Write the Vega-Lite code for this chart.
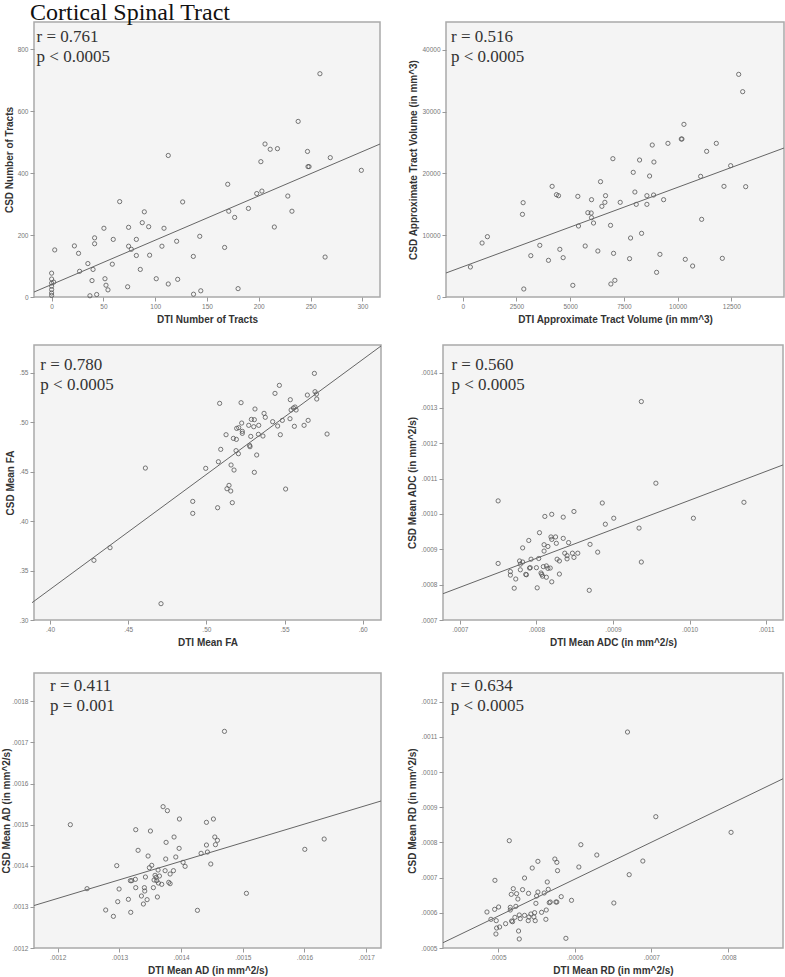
{
  "$schema": "https://vega.github.io/schema/vega-lite/v6.json",
  "padding": {"left": 0, "top": 0, "right": 0, "bottom": 0},
  "background": "white",
  "title": {"text": "Cortical Spinal Tract", "anchor": "start", "frame": "group", "font": "Liberation Serif", "fontSize": 24, "fontWeight": "normal", "color": "#111", "offset": -3.5, "dx": -4},
  "config": {
    "view": {"fill": "#f4f4f4", "stroke": "#a9a9a9", "strokeWidth": 1.5},
    "axis": {"grid": false, "domain": false, "labelOverlap": false, "tickCount": 20, "labelFont": "Liberation Sans", "labelFontSize": 6.5, "labelColor": "#777", "tickColor": "#999", "tickSize": 4, "labelPadding": 2, "titleFont": "Liberation Sans", "titleFontSize": 10, "titleFontWeight": "bold", "titleColor": "#333", "titlePadding": 5},
    "axisY": {"titlePadding": 3},
    "point": {"shape": "circle", "filled": false, "size": 18, "color": "#555", "strokeWidth": 0.8, "opacity": 1},
    "line": {"color": "#666", "strokeWidth": 1, "clip": true},
    "text": {"align": "left", "baseline": "alphabetic", "font": "Liberation Serif", "fontSize": 17, "color": "#333", "lineHeight": 20}
  },
  "columns": 1,
  "align": "none",
  "spacing": 17,
  "bounds": "full",
  "concat": [
    {"hconcat": [
      {"width": 346, "height": 275, "layer": [
        {"data": {"values": [
          {"dti":0,"csd":77},{"dti":0,"csd":58},{"dti":0,"csd":45},{"dti":0,"csd":35},{"dti":0,"csd":24},{"dti":0,"csd":13},{"dti":0,"csd":5},{"dti":2,"csd":48},{"dti":3,"csd":152},{"dti":22,"csd":165},{"dti":26,"csd":141},{"dti":27,"csd":83},{"dti":35,"csd":108},{"dti":37,"csd":4},{"dti":39,"csd":53},{"dti":40,"csd":89},{"dti":41.5,"csd":172},{"dti":41.5,"csd":191},{"dti":43.5,"csd":8},{"dti":50.5,"csd":222},{"dti":51.5,"csd":59},{"dti":52.5,"csd":38},{"dti":54.4,"csd":23},{"dti":58.6,"csd":106},{"dti":59.5,"csd":186},{"dti":65.7,"csd":308},{"dti":73.4,"csd":33},{"dti":74.3,"csd":225},{"dti":74.3,"csd":164},{"dti":77,"csd":154},{"dti":81.8,"csd":186},{"dti":81.8,"csd":134},{"dti":85.6,"csd":89},{"dti":87.5,"csd":240},{"dti":89.5,"csd":275},{"dti":93.7,"csd":227},{"dti":94.6,"csd":135},{"dti":101,"csd":59},{"dti":106.5,"csd":164},{"dti":108.5,"csd":222},{"dti":112.6,"csd":42},{"dti":112.6,"csd":457},{"dti":120.7,"csd":180},{"dti":121.7,"csd":57},{"dti":126.5,"csd":307},{"dti":136.8,"csd":131},{"dti":137,"csd":9},{"dti":143,"csd":196},{"dti":144,"csd":20},{"dti":167,"csd":160},{"dti":170,"csd":364},{"dti":171,"csd":277},{"dti":176.7,"csd":257},{"dti":180,"csd":27},{"dti":190,"csd":286},{"dti":198,"csd":334},{"dti":202,"csd":437},{"dti":203,"csd":342},{"dti":206,"csd":494},{"dti":211,"csd":477},{"dti":218,"csd":479},{"dti":215,"csd":226},{"dti":228,"csd":326},{"dti":232,"csd":277},{"dti":238,"csd":567},{"dti":247,"csd":470},{"dti":247.5,"csd":421},{"dti":248.5,"csd":421},{"dti":259,"csd":721},{"dti":264,"csd":129},{"dti":269,"csd":450},{"dti":299,"csd":409}
        ]},
         "mark": {"type": "point"},
         "encoding": {
          "x": {"field": "dti", "type": "quantitative", "scale": {"domain": [-17, 317], "nice": false, "zero": false}, "axis": {"title": "DTI Number of Tracts", "values": [0,50,100,150,200,250,300], "format": "d"}},
          "y": {"field": "csd", "type": "quantitative", "scale": {"domain": [0, 888], "nice": false, "zero": false}, "axis": {"title": "CSD Number of Tracts", "values": [0,200,400,600,800], "format": "d"}}}},
        {"data": {"values": [{"dti": -17, "csd": 16}, {"dti": 317, "csd": 494}]},
         "mark": {"type": "line"},
         "encoding": {"x": {"field": "dti", "type": "quantitative"}, "y": {"field": "csd", "type": "quantitative"}}},
        {"data": {"values": [{}]},
         "mark": {"type": "text", "text": ["r = 0.761", "p < 0.0005"]},
         "encoding": {"x": {"datum": -14.5}, "y": {"datum": 824}}}
      ]},
      {"width": 338, "height": 275, "layer": [
        {"data": {"values": [
          {"dti":357,"csd":4852},{"dti":901,"csd":8733},{"dti":1149,"csd":9757},{"dti":2780,"csd":13369},{"dti":2811,"csd":15256},{"dti":2842,"csd":1294},{"dti":3168,"csd":6685},{"dti":3587,"csd":8356},{"dti":3991,"csd":5930},{"dti":4161,"csd":17898},{"dti":4363,"csd":16550},{"dti":4457,"csd":16388},{"dti":4519,"csd":7709},{"dti":4674,"csd":6361},{"dti":5124,"csd":1887},{"dti":5357,"csd":16280},{"dti":5388,"csd":11482},{"dti":5699,"csd":8248},{"dti":5823,"csd":13639},{"dti":5978,"csd":13585},{"dti":5994,"csd":15741},{"dti":5994,"csd":12830},{"dti":6087,"csd":11968},{"dti":6289,"csd":7439},{"dti":6413,"csd":18652},{"dti":6475,"csd":14663},{"dti":6615,"csd":15310},{"dti":6646,"csd":16388},{"dti":6879,"csd":11590},{"dti":6894,"csd":2102},{"dti":6988,"csd":22372},{"dti":7019,"csd":7062},{"dti":7081,"csd":2695},{"dti":7329,"csd":15310},{"dti":7764,"csd":6199},{"dti":7811,"csd":9542},{"dti":7935,"csd":20162},{"dti":8012,"csd":16981},{"dti":8075,"csd":14987},{"dti":8230,"csd":22156},{"dti":8323,"csd":10297},{"dti":8571,"csd":16388},{"dti":8571,"csd":14987},{"dti":8696,"csd":19569},{"dti":8820,"csd":24582},{"dti":8882,"csd":16496},{"dti":8898,"csd":21833},{"dti":9022,"csd":3989},{"dti":9177,"csd":6900},{"dti":9348,"csd":15741},{"dti":9550,"csd":24852},{"dti":10171,"csd":25553},{"dti":10202,"csd":25553},{"dti":10295,"csd":27925},{"dti":10357,"csd":6092},{"dti":10699,"csd":5013},{"dti":11071,"csd":19515},{"dti":11118,"csd":12561},{"dti":11351,"csd":23558},{"dti":11801,"csd":24852},{"dti":12081,"csd":6253},{"dti":12158,"csd":17898},{"dti":12469,"csd":21240},{"dti":12842,"csd":36011},{"dti":13028,"csd":33208},{"dti":13168,"csd":17844}
        ]},
         "mark": {"type": "point"},
         "encoding": {
          "x": {"field": "dti", "type": "quantitative", "scale": {"domain": [-778, 14951], "nice": false, "zero": false}, "axis": {"title": "DTI Approximate Tract Volume (in mm^3)", "values": [0,2500,5000,7500,10000,12500], "format": "d"}},
          "y": {"field": "csd", "type": "quantitative", "scale": {"domain": [0, 44480], "nice": false, "zero": false}, "axis": {"title": "CSD Approximate Tract Volume (in mm^3)", "values": [0,10000,20000,30000,40000], "format": "d"}}}},
        {"data": {"values": [{"dti": -778, "csd": 3882}, {"dti": 14951, "csd": 24100}]},
         "mark": {"type": "line"},
         "encoding": {"x": {"field": "dti", "type": "quantitative"}, "y": {"field": "csd", "type": "quantitative"}}},
        {"data": {"values": [{}]},
         "mark": {"type": "text", "text": ["r = 0.516", "p < 0.0005"]},
         "encoding": {"x": {"datum": -545}, "y": {"datum": 41278}}}
      ]}
    ], "spacing": 66, "bounds": "flush"},
    {"columns": 1, "align": "none", "spacing": 23, "bounds": "full", "concat": [
      {"hconcat": [
        {"width": 347, "height": 275, "layer": [
          {"data": {"values": [
            {"dti":0.4281,"csd":0.3603},{"dti":0.4384,"csd":0.3731},{"dti":0.461,"csd":0.4536},{"dti":0.471,"csd":0.3165},{"dti":0.4913,"csd":0.4199},{"dti":0.4913,"csd":0.4078},{"dti":0.4996,"csd":0.4533},{"dti":0.5072,"csd":0.4135},{"dti":0.5077,"csd":0.46},{"dti":0.5085,"csd":0.519},{"dti":0.5092,"csd":0.4725},{"dti":0.5126,"csd":0.4873},{"dti":0.5132,"csd":0.4327},{"dti":0.5145,"csd":0.4361},{"dti":0.5156,"csd":0.4304},{"dti":0.5158,"csd":0.4567},{"dti":0.5166,"csd":0.4186},{"dti":0.5173,"csd":0.4836},{"dti":0.5177,"csd":0.4516},{"dti":0.519,"csd":0.4712},{"dti":0.5192,"csd":0.4826},{"dti":0.5194,"csd":0.4937},{"dti":0.5205,"csd":0.4681},{"dti":0.5207,"csd":0.4944},{"dti":0.5222,"csd":0.5197},{"dti":0.5226,"csd":0.4991},{"dti":0.523,"csd":0.4907},{"dti":0.523,"csd":0.4887},{"dti":0.5271,"csd":0.4968},{"dti":0.5277,"csd":0.4765},{"dti":0.5279,"csd":0.4752},{"dti":0.5284,"csd":0.4856},{"dti":0.5288,"csd":0.5028},{"dti":0.5303,"csd":0.4954},{"dti":0.5307,"csd":0.5025},{"dti":0.5307,"csd":0.4493},{"dti":0.5311,"csd":0.5133},{"dti":0.5322,"csd":0.4668},{"dti":0.5333,"csd":0.4877},{"dti":0.5335,"csd":0.4968},{"dti":0.5362,"csd":0.486},{"dti":0.5369,"csd":0.5089},{"dti":0.5377,"csd":0.5049},{"dti":0.5424,"csd":0.5005},{"dti":0.5439,"csd":0.5291},{"dti":0.5456,"csd":0.4961},{"dti":0.5467,"csd":0.5372},{"dti":0.5473,"csd":0.4873},{"dti":0.5486,"csd":0.5018},{"dti":0.5507,"csd":0.4324},{"dti":0.5537,"csd":0.5227},{"dti":0.5535,"csd":0.5035},{"dti":0.5542,"csd":0.5123},{"dti":0.5557,"csd":0.5143},{"dti":0.5567,"csd":0.5153},{"dti":0.5563,"csd":0.4958},{"dti":0.5574,"csd":0.5123},{"dti":0.5625,"csd":0.4968},{"dti":0.5646,"csd":0.5274},{"dti":0.5651,"csd":0.5018},{"dti":0.5691,"csd":0.5493},{"dti":0.5695,"csd":0.5308},{"dti":0.5704,"csd":0.5284},{"dti":0.5706,"csd":0.5234},{"dti":0.5772,"csd":0.488}
          ]},
           "mark": {"type": "point"},
           "encoding": {
            "x": {"field": "dti", "type": "quantitative", "scale": {"domain": [0.38977, 0.6117], "nice": false, "zero": false}, "axis": {"title": "DTI Mean FA", "values": [0.40,0.45,0.50,0.55,0.60], "labelExpr": "substring(format(datum.value, '.2f'), 1)"}},
            "y": {"field": "csd", "type": "quantitative", "scale": {"domain": [0.30, 0.578], "nice": false, "zero": false}, "axis": {"title": "CSD Mean FA", "values": [0.30,0.35,0.40,0.45,0.50,0.55], "labelExpr": "substring(format(datum.value, '.2f'), 1)"}}}},
          {"data": {"values": [{"dti": 0.3885, "csd": 0.3175}, {"dti": 0.6117, "csd": 0.577}]},
           "mark": {"type": "line"},
           "encoding": {"x": {"field": "dti", "type": "quantitative"}, "y": {"field": "csd", "type": "quantitative"}}},
          {"data": {"values": [{}]},
           "mark": {"type": "text", "text": ["r = 0.780", "p < 0.0005"]},
           "encoding": {"x": {"datum": 0.3938}, "y": {"datum": 0.553}}}
        ]},
        {"width": 340, "height": 275, "layer": [
          {"data": {"values": [
            {"dti":0.00075,"csd":0.001037},{"dti":0.00075,"csd":0.00086},{"dti":0.000766,"csd":0.000837},{"dti":0.000766,"csd":0.000827},{"dti":0.000771,"csd":0.00079},{"dti":0.000773,"csd":0.000816},{"dti":0.000778,"csd":0.000867},{"dti":0.000779,"csd":0.000842},{"dti":0.000779,"csd":0.000858},{"dti":0.000782,"csd":0.000904},{"dti":0.000782,"csd":0.000864},{"dti":0.000786,"csd":0.000829},{"dti":0.000787,"csd":0.000828},{"dti":0.00079,"csd":0.000925},{"dti":0.000791,"csd":0.000847},{"dti":0.000792,"csd":0.000848},{"dti":0.000793,"csd":0.000872},{"dti":0.0008,"csd":0.000848},{"dti":0.000801,"csd":0.000791},{"dti":0.000803,"csd":0.000874},{"dti":0.000804,"csd":0.000947},{"dti":0.000806,"csd":0.000833},{"dti":0.000807,"csd":0.000829},{"dti":0.000808,"csd":0.000824},{"dti":0.000809,"csd":0.000851},{"dti":0.00081,"csd":0.000895},{"dti":0.00081,"csd":0.000913},{"dti":0.000811,"csd":0.000993},{"dti":0.000813,"csd":0.000821},{"dti":0.000813,"csd":0.000853},{"dti":0.000815,"csd":0.000846},{"dti":0.000815,"csd":0.000908},{"dti":0.000818,"csd":0.000847},{"dti":0.000819,"csd":0.000935},{"dti":0.00082,"csd":0.000808},{"dti":0.00082,"csd":0.000928},{"dti":0.00082,"csd":0.000999},{"dti":0.000825,"csd":0.000935},{"dti":0.000826,"csd":0.000917},{"dti":0.000827,"csd":0.000872},{"dti":0.00083,"csd":0.000867},{"dti":0.00083,"csd":0.00083},{"dti":0.000835,"csd":0.000931},{"dti":0.000835,"csd":0.000991},{"dti":0.000837,"csd":0.000889},{"dti":0.00084,"csd":0.000873},{"dti":0.00084,"csd":0.000882},{"dti":0.000842,"csd":0.000919},{"dti":0.000847,"csd":0.000889},{"dti":0.000849,"csd":0.001007},{"dti":0.000849,"csd":0.000877},{"dti":0.000854,"csd":0.000889},{"dti":0.000869,"csd":0.000784},{"dti":0.00087,"csd":0.000914},{"dti":0.00088,"csd":0.000892},{"dti":0.000886,"csd":0.001031},{"dti":0.00089,"csd":0.000971},{"dti":0.000901,"csd":0.000988},{"dti":0.000934,"csd":0.00096},{"dti":0.000937,"csd":0.001318},{"dti":0.000937,"csd":0.000864},{"dti":0.000956,"csd":0.001087},{"dti":0.001005,"csd":0.000988},{"dti":0.001071,"csd":0.001033}
          ]},
           "mark": {"type": "point"},
           "encoding": {
            "x": {"field": "dti", "type": "quantitative", "scale": {"domain": [0.000678, 0.001122], "nice": false, "zero": false}, "axis": {"title": "DTI Mean ADC (in mm^2/s)", "values": [0.0007,0.0008,0.0009,0.0010,0.0011], "labelExpr": "substring(format(datum.value, '.4f'), 1)"}},
            "y": {"field": "csd", "type": "quantitative", "scale": {"domain": [0.0007, 0.001478], "nice": false, "zero": false}, "axis": {"title": "CSD Mean ADC (in mm^2/s)", "tickCount": 20, "values": [0.0007,0.0008,0.0009,0.0010,0.0011,0.0012,0.0013,0.0014], "labelExpr": "substring(format(datum.value, '.4f'), 1)"}}}},
          {"data": {"values": [{"dti": 0.000678, "csd": 0.0007744}, {"dti": 0.001122, "csd": 0.0011387}]},
           "mark": {"type": "line"},
           "encoding": {"x": {"field": "dti", "type": "quantitative"}, "y": {"field": "csd", "type": "quantitative"}}},
          {"data": {"values": [{}]},
           "mark": {"type": "text", "text": ["r = 0.560", "p < 0.0005"]},
           "encoding": {"x": {"datum": 0.000689}, "y": {"datum": 0.001408}}}
        ]}
      ], "spacing": 62, "bounds": "flush"},
      {"hconcat": [
        {"width": 347, "height": 275, "layer": [
          {"data": {"values": [
            {"dti":0.0012205,"csd":0.0015},{"dti":0.0012476,"csd":0.0013443},{"dti":0.0012778,"csd":0.0012924},{"dti":0.0012903,"csd":0.001277},{"dti":0.0012957,"csd":0.0014003},{"dti":0.0012973,"csd":0.0013127},{"dti":0.0012995,"csd":0.0013435},{"dti":0.0013146,"csd":0.0013184},{"dti":0.0013178,"csd":0.0013638},{"dti":0.0013184,"csd":0.0012868},{"dti":0.00132,"csd":0.0013638},{"dti":0.0013259,"csd":0.001367},{"dti":0.0013265,"csd":0.0014878},{"dti":0.0013265,"csd":0.0013468},{"dti":0.0013303,"csd":0.0014376},{"dti":0.0013357,"csd":0.0013265},{"dti":0.0013389,"csd":0.001307},{"dti":0.0013405,"csd":0.0013468},{"dti":0.0013411,"csd":0.0013386},{"dti":0.0013422,"csd":0.0013727},{"dti":0.0013449,"csd":0.0013176},{"dti":0.0013465,"csd":0.0014238},{"dti":0.0013486,"csd":0.0013954},{"dti":0.0013503,"csd":0.0014846},{"dti":0.0013524,"csd":0.0014011},{"dti":0.0013551,"csd":0.0013468},{"dti":0.0013562,"csd":0.0013654},{"dti":0.0013578,"csd":0.0013768},{"dti":0.0013595,"csd":0.0013719},{"dti":0.0013605,"csd":0.0013638},{"dti":0.0013616,"csd":0.0013241},{"dti":0.0013627,"csd":0.0013897},{"dti":0.0013632,"csd":0.0013581},{"dti":0.0013649,"csd":0.0013751},{"dti":0.0013708,"csd":0.0015438},{"dti":0.0013686,"csd":0.0013549},{"dti":0.0013741,"csd":0.0013881},{"dti":0.0013751,"csd":0.0014165},{"dti":0.0013757,"csd":0.001457},{"dti":0.0013778,"csd":0.0015341},{"dti":0.00138,"csd":0.0013597},{"dti":0.0013822,"csd":0.0013565},{"dti":0.0013822,"csd":0.00138},{"dti":0.0013876,"csd":0.0013881},{"dti":0.0013886,"csd":0.00147},{"dti":0.0013914,"csd":0.0014214},{"dti":0.0013968,"csd":0.0014424},{"dti":0.0013973,"csd":0.0015138},{"dti":0.0014032,"csd":0.0014084},{"dti":0.0014065,"csd":0.0013986},{"dti":0.0014265,"csd":0.0012916},{"dti":0.0014324,"csd":0.0014303},{"dti":0.0014411,"csd":0.0015057},{"dti":0.0014411,"csd":0.0014505},{"dti":0.0014427,"csd":0.0014335},{"dti":0.0014481,"csd":0.0014043},{"dti":0.0014524,"csd":0.0015138},{"dti":0.0014546,"csd":0.00147},{"dti":0.0014557,"csd":0.0014514},{"dti":0.0014589,"csd":0.0014619},{"dti":0.0014703,"csd":0.001727},{"dti":0.0015059,"csd":0.001333},{"dti":0.0016005,"csd":0.00144},{"dti":0.0016319,"csd":0.0014651}
          ]},
           "mark": {"type": "point"},
           "encoding": {
            "x": {"field": "dti", "type": "quantitative", "scale": {"domain": [0.0011616, 0.001724], "nice": false, "zero": false}, "axis": {"title": "DTI Mean AD (in mm^2/s)", "values": [0.0012,0.0013,0.0014,0.0015,0.0016,0.0017], "labelExpr": "substring(format(datum.value, '.4f'), 1)"}},
            "y": {"field": "csd", "type": "quantitative", "scale": {"domain": [0.0012, 0.001869], "nice": false, "zero": false}, "axis": {"title": "CSD Mean AD (in mm^2/s)", "titlePadding": 0, "values": [0.0012,0.0013,0.0014,0.0015,0.0016,0.0017,0.0018], "labelExpr": "substring(format(datum.value, '.4f'), 1)"}}}},
          {"data": {"values": [{"dti": 0.0011616, "csd": 0.0013033}, {"dti": 0.001724, "csd": 0.0015576}]},
           "mark": {"type": "line"},
           "encoding": {"x": {"field": "dti", "type": "quantitative"}, "y": {"field": "csd", "type": "quantitative"}}},
          {"data": {"values": [{}]},
           "mark": {"type": "text", "text": ["r = 0.411", "p = 0.001"]},
           "encoding": {"x": {"datum": 0.0011875}, "y": {"datum": 0.0018246}}}
        ]},
        {"width": 340, "height": 275, "layer": [
          {"data": {"values": [
            {"dti":0.0004857,"csd":0.0006023},{"dti":0.0004909,"csd":0.0005815},{"dti":0.0004957,"csd":0.0006099},{"dti":0.0004961,"csd":0.0006923},{"dti":0.0004974,"csd":0.0005398},{"dti":0.0004978,"csd":0.0005777},{"dti":0.0004983,"csd":0.0005568},{"dti":0.0005009,"csd":0.0006165},{"dti":0.0005022,"csd":0.0005597},{"dti":0.00051,"csd":0.0005691},{"dti":0.0005148,"csd":0.000805},{"dti":0.0005161,"csd":0.0006156},{"dti":0.0005161,"csd":0.000608},{"dti":0.0005174,"csd":0.0006525},{"dti":0.0005178,"csd":0.0005767},{"dti":0.0005191,"csd":0.0005748},{"dti":0.00052,"csd":0.0006686},{"dti":0.0005221,"csd":0.0005871},{"dti":0.0005234,"csd":0.0006184},{"dti":0.0005243,"csd":0.0006544},{"dti":0.000526,"csd":0.0006392},{"dti":0.0005269,"csd":0.0005483},{"dti":0.0005278,"csd":0.0005256},{"dti":0.0005278,"csd":0.0005938},{"dti":0.0005291,"csd":0.0005834},{"dti":0.0005321,"csd":0.0006658},{"dti":0.0005347,"csd":0.0006989},{"dti":0.0005347,"csd":0.0005928},{"dti":0.0005395,"csd":0.0005777},{"dti":0.0005399,"csd":0.0006553},{"dti":0.0005404,"csd":0.0005881},{"dti":0.000543,"csd":0.0005966},{"dti":0.0005447,"csd":0.0007273},{"dti":0.0005469,"csd":0.0005881},{"dti":0.0005478,"csd":0.0006004},{"dti":0.0005486,"csd":0.0005777},{"dti":0.0005495,"csd":0.0006269},{"dti":0.0005504,"csd":0.0006478},{"dti":0.0005521,"csd":0.0006591},{"dti":0.0005521,"csd":0.0007463},{"dti":0.0005569,"csd":0.0006014},{"dti":0.0005603,"csd":0.0006563},{"dti":0.0005625,"csd":0.0005815},{"dti":0.000563,"csd":0.000608},{"dti":0.0005643,"csd":0.0006876},{"dti":0.0005656,"csd":0.0006667},{"dti":0.0005669,"csd":0.0006288},{"dti":0.0005682,"csd":0.0006307},{"dti":0.0005742,"csd":0.0007529},{"dti":0.0005756,"csd":0.0006307},{"dti":0.0005768,"csd":0.0006307},{"dti":0.0005768,"csd":0.0007434},{"dti":0.0005777,"csd":0.0007198},{"dti":0.0005825,"csd":0.0006459},{"dti":0.0005886,"csd":0.0005275},{"dti":0.0005959,"csd":0.0006355},{"dti":0.0006055,"csd":0.0007302},{"dti":0.0006081,"csd":0.0007936},{"dti":0.0006289,"csd":0.0007643},{"dti":0.0006511,"csd":0.0006279},{"dti":0.0006689,"csd":0.0011138},{"dti":0.0006711,"csd":0.0007084},{"dti":0.0006889,"csd":0.0007472},{"dti":0.0007058,"csd":0.0008732},{"dti":0.0008039,"csd":0.0008287}
          ]},
           "mark": {"type": "point"},
           "encoding": {
            "x": {"field": "dti", "type": "quantitative", "scale": {"domain": [0.0004284, 0.0008716], "nice": false, "zero": false}, "axis": {"title": "DTI Mean RD (in mm^2/s)", "values": [0.0005,0.0006,0.0007,0.0008], "labelExpr": "substring(format(datum.value, '.4f'), 1)"}},
            "y": {"field": "csd", "type": "quantitative", "scale": {"domain": [0.0005, 0.0012816], "nice": false, "zero": false}, "axis": {"title": "CSD Mean RD (in mm^2/s)", "tickCount": 20, "values": [0.0005,0.0006,0.0007,0.0008,0.0009,0.0010,0.0011,0.0012], "labelExpr": "substring(format(datum.value, '.4f'), 1)"}}}},
          {"data": {"values": [{"dti": 0.0004284, "csd": 0.000515}, {"dti": 0.0008716, "csd": 0.000981}]},
           "mark": {"type": "line"},
           "encoding": {"x": {"field": "dti", "type": "quantitative"}, "y": {"field": "csd", "type": "quantitative"}}},
          {"data": {"values": [{}]},
           "mark": {"type": "text", "text": ["r = 0.634", "p < 0.0005"]},
           "encoding": {"x": {"datum": 0.0004384}, "y": {"datum": 0.0012298}}}
        ]}
      ], "spacing": 62, "bounds": "flush"}
    ]}
  ]
}
